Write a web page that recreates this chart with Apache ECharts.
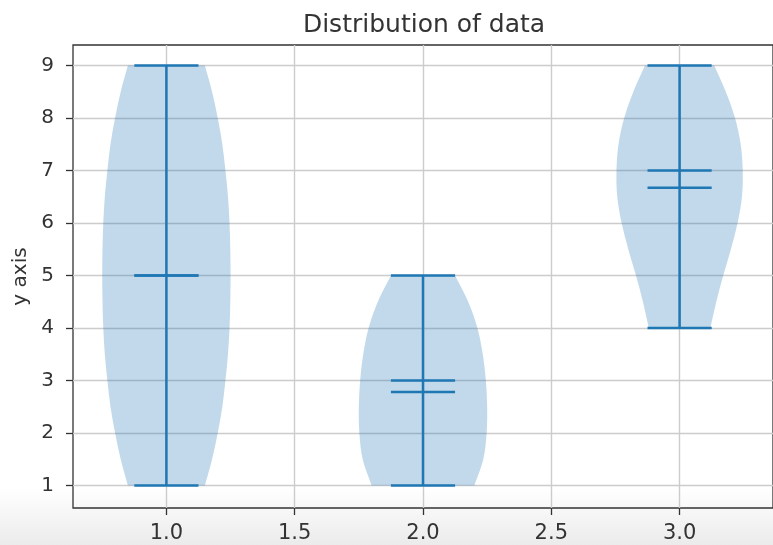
<!DOCTYPE html>
<html>
<head>
<meta charset="utf-8">
<script src="https://cdn.jsdelivr.net/npm/echarts@6/dist/echarts.min.js"></script>
<style>
  html, body { margin: 0; padding: 0; background: #ffffff; }
  #chart { width: 773px; height: 545px; }
</style>
</head>
<body>
<div id="chart"></div>
<script>
// Violin centres on the x axis
const positions = [1, 2, 3];
// Summary statistics per sample
const minima = [1, 1, 4];
const maxima = [9, 5, 9];
const means = [5, 2.78, 6.67];
const medians = [5, 3, 7];
// Density outline of each violin: y levels and half-widths (in x units)
const violin1Y = [1, 1.5, 2, 2.5, 3, 3.5, 4, 4.5, 5, 5.5, 6, 6.5, 7, 7.5, 8, 8.5, 9];
const violin1W = [0.15, 0.178, 0.2, 0.218, 0.23, 0.24, 0.246, 0.249, 0.25, 0.249, 0.246, 0.24, 0.23, 0.218, 0.2, 0.178, 0.15];
const violin2Y = [1, 1.5, 2, 2.5, 3, 3.5, 4, 4.5, 5];
const violin2W = [0.2, 0.235, 0.248, 0.25, 0.245, 0.233, 0.212, 0.176, 0.125];
const violin3Y = [4, 4.5, 5, 5.5, 6, 6.5, 7, 7.5, 8, 8.5, 9];
const violin3W = [0.12, 0.143, 0.17, 0.2, 0.226, 0.243, 0.246, 0.238, 0.216, 0.18, 0.135];
// Tick positions
const xTicks = [1.0, 1.5, 2.0, 2.5, 3.0];
const yTicks = [1, 2, 3, 4, 5, 6, 7, 8, 9];

const profiles = [
  { y: violin1Y, w: violin1W },
  { y: violin2Y, w: violin2W },
  { y: violin3Y, w: violin3W }
];

const BLUE = '#1f77b4';
const FONT = 'DejaVu Sans';
const TEXT = '#333333';
const CAP = 0.125; // half-length of the horizontal stat bars

// Catmull-Rom segments through pixel points, as cubic bezier path commands
function curveThrough(pts) {
  let d = '';
  for (let k = 0; k < pts.length - 1; k++) {
    const p0 = pts[k - 1] || pts[k];
    const p1 = pts[k];
    const p2 = pts[k + 1];
    const p3 = pts[k + 2] || pts[k + 1];
    const c1x = p1[0] + (p2[0] - p0[0]) / 6, c1y = p1[1] + (p2[1] - p0[1]) / 6;
    const c2x = p2[0] - (p3[0] - p1[0]) / 6, c2y = p2[1] - (p3[1] - p1[1]) / 6;
    d += ' C ' + c1x + ' ' + c1y + ' ' + c2x + ' ' + c2y + ' ' + p2[0] + ' ' + p2[1];
  }
  return d;
}

function renderBody(params, api) {
  const i = params.dataIndex;
  const pos = api.value(0);
  const prof = profiles[i];
  const right = prof.y.map((y, k) => api.coord([pos + prof.w[k], y]));
  const left = prof.y.map((y, k) => api.coord([pos - prof.w[k], y])).reverse();
  let d = 'M ' + right[0][0] + ' ' + right[0][1];
  d += curveThrough(right);
  d += ' L ' + left[0][0] + ' ' + left[0][1];
  d += curveThrough(left);
  d += ' Z';
  return {
    type: 'path',
    shape: { pathData: d },
    style: { fill: 'rgba(31,119,180,0.28)', stroke: 'none' }
  };
}

function renderStats(params, api) {
  const pos = api.value(0);
  const lo = api.value(1), hi = api.value(2), mn = api.value(3), md = api.value(4);
  const seg = (a, b) => {
    const p = api.coord(a), q = api.coord(b);
    return {
      type: 'line',
      shape: { x1: p[0], y1: p[1], x2: q[0], y2: q[1] },
      style: { stroke: BLUE, lineWidth: 2.5 }
    };
  };
  const children = [seg([pos, lo], [pos, hi])];
  [lo, hi, mn, md].forEach(v => children.push(seg([pos - CAP, v], [pos + CAP, v])));
  return { type: 'group', children: children };
}

const chart = echarts.init(document.getElementById('chart'), null, { renderer: 'canvas' });

chart.setOption({
  animation: false,
  backgroundColor: '#ffffff',
  title: {
    text: 'Distribution of data',
    left: 419,
    textAlign: 'center',
    top: 8,
    textStyle: { fontFamily: FONT, fontSize: 25, fontWeight: 'normal', color: TEXT }
  },
  graphic: [{
    type: 'rect',
    left: 0, top: 488, z: -10, silent: true,
    shape: { width: 773, height: 57 },
    style: {
      fill: new echarts.graphic.LinearGradient(0, 0, 0, 1, [
        { offset: 0, color: 'rgba(0,0,0,0)' },
        { offset: 1, color: 'rgba(0,0,0,0.08)' }
      ])
    }
  }],
  grid: {
    left: 73, top: 45, width: 705, height: 463,
    show: true, borderColor: '#333333', borderWidth: 1.3,
    backgroundColor: 'transparent'
  },
  xAxis: {
    type: 'value',
    min: 0.636, max: 3.364,
    axisLine: { show: false },
    axisTick: {
      show: true, inside: false, length: 7, customValues: xTicks,
      lineStyle: { color: '#333333', width: 1.3 }
    },
    axisLabel: {
      customValues: xTicks,
      formatter: v => v.toFixed(1),
      fontFamily: FONT, fontSize: 21, color: TEXT, margin: 15
    },
    splitLine: { show: true, lineStyle: { color: '#cccccc', width: 1.4 } }
  },
  yAxis: {
    type: 'value',
    min: 0.57, max: 9.39,
    name: 'y axis',
    nameLocation: 'middle',
    nameGap: 42,
    nameTextStyle: { fontFamily: FONT, fontSize: 20, color: TEXT },
    axisLine: { show: false },
    axisTick: {
      show: true, inside: false, length: 7, customValues: yTicks,
      lineStyle: { color: '#333333', width: 1.3 }
    },
    axisLabel: {
      customValues: yTicks,
      fontFamily: FONT, fontSize: 20, color: TEXT, margin: 19
    },
    splitLine: { show: true, lineStyle: { color: '#cccccc', width: 1.4 } }
  },
  series: [
    {
      type: 'custom',
      name: 'bodies',
      renderItem: renderBody,
      encode: { x: 0, y: 1 },
      data: positions.map((p, i) => [p, minima[i]]),
      z: 2
    },
    {
      type: 'custom',
      name: 'stats',
      renderItem: renderStats,
      encode: { x: 0, y: [1, 2] },
      data: positions.map((p, i) => [p, minima[i], maxima[i], means[i], medians[i]]),
      z: 3
    }
  ]
});
</script>
</body>
</html>
